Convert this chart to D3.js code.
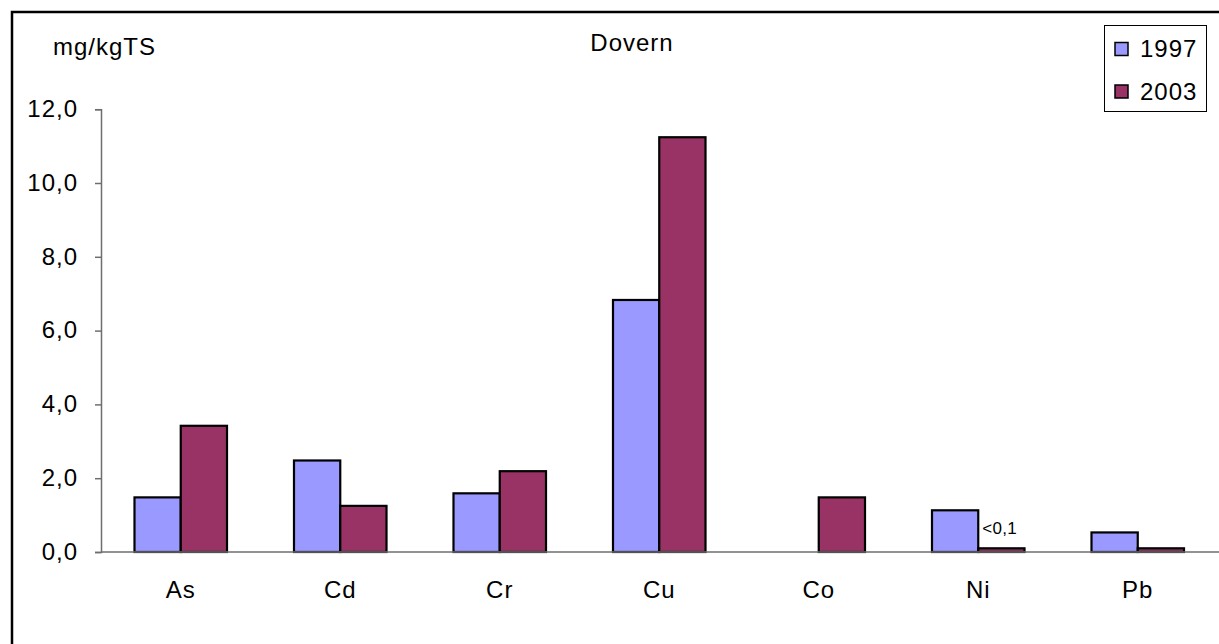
<!DOCTYPE html>
<html>
<head>
<meta charset="utf-8">
<script src="https://cdn.jsdelivr.net/npm/d3@7"></script>
<style>
  html, body { margin: 0; padding: 0; background: #fff; }
  svg { display: block; }
  text { font-family: "Liberation Sans", Arial, sans-serif; fill: #000; letter-spacing: 1px; }
</style>
</head>
<body>
<svg id="chart" width="1219" height="644"></svg>
<script>
const categories = ["As", "Cd", "Cr", "Cu", "Co", "Ni", "Pb"];
const seriesNames = ["1997", "2003"];
const values1997 = [1.48, 2.48, 1.59, 6.83, null, 1.13, 0.53];
const values2003 = [3.42, 1.25, 2.19, 11.24, 1.48, 0.1, 0.1];
const seriesColors = ["#9999FF", "#993366"];
const yTicks = [0, 2, 4, 6, 8, 10, 12];
const annotations = [{ category: "Ni", series: "2003", text: "<0,1" }];
const titleText = "Dovern";
const unitText = "mg/kgTS";

const svg = d3.select("#chart");
const plot = { left: 101, right: 1217.5, top: 109.2, bottom: 552 };
const FS = 24;

// outer chart border
svg.append("rect")
  .attr("x", 12).attr("y", 12)
  .attr("width", 1240).attr("height", 700)
  .attr("fill", "none").attr("stroke", "#000").attr("stroke-width", 2.5);

const x0 = d3.scaleBand().domain(categories)
  .range([plot.left, plot.right]).paddingInner(0.42).paddingOuter(0.21);
const x1 = d3.scaleBand().domain(seriesNames).range([0, x0.bandwidth()]);
const y = d3.scaleLinear().domain([0, 12]).range([plot.bottom, plot.top]);

const rows = categories.map((c, i) => ({ cat: c, vals: [values1997[i], values2003[i]] }));

// bars
const groups = svg.append("g").selectAll("g").data(rows).join("g")
  .attr("transform", d => `translate(${x0(d.cat)},0)`);
groups.selectAll("rect")
  .data(d => d.vals.map((v, j) => ({ s: seriesNames[j], v, j })).filter(e => e.v != null))
  .join("rect")
  .attr("x", e => x1(e.s))
  .attr("width", x1.bandwidth())
  .attr("y", e => y(e.v))
  .attr("height", e => y(0) - y(e.v))
  .attr("fill", e => seriesColors[e.j])
  .attr("stroke", "#000").attr("stroke-width", 2.2);

// y axis
const yAxis = svg.append("g").attr("transform", `translate(${plot.left},0)`)
  .call(d3.axisLeft(y).tickValues(yTicks).tickSize(6).tickPadding(17)
    .tickFormat(d => d.toFixed(1).replace(".", ",")));
yAxis.select(".domain").attr("stroke", "#6e6e6e").attr("stroke-width", 1.5);
yAxis.selectAll(".tick line").attr("stroke", "#6e6e6e").attr("stroke-width", 1.5);
yAxis.selectAll(".tick text").attr("font-size", FS).attr("dy", "0.3em")
  .attr("font-family", "Liberation Sans, Arial, sans-serif").attr("fill", "#000");

// x axis
const xAxis = svg.append("g").attr("transform", `translate(0,${plot.bottom})`)
  .call(d3.axisBottom(x0).tickSize(0).tickPadding(30));
xAxis.select(".domain").attr("stroke", "#6e6e6e").attr("stroke-width", 1.5)
  .attr("d", `M${plot.left},0H1219`);
xAxis.selectAll(".tick text").attr("font-size", FS).attr("dy", "0.68em")
  .attr("font-family", "Liberation Sans, Arial, sans-serif").attr("fill", "#000");

// annotations
annotations.forEach(a => {
  const i = categories.indexOf(a.category);
  const v = (a.series === "2003" ? values2003 : values1997)[i];
  svg.append("text")
    .attr("x", x0(a.category) + x1(a.series) + 4)
    .attr("y", y(v) - 14)
    .attr("font-size", 17)
    .style("letter-spacing", "0.3px")
    .text(a.text);
});

// title and unit
svg.append("text").attr("x", 632).attr("y", 51).attr("text-anchor", "middle")
  .attr("font-size", FS).text(titleText);
svg.append("text").attr("x", 53).attr("y", 55).attr("font-size", FS).text(unitText);

// legend
const lg = svg.append("g");
lg.append("rect").attr("x", 1104.5).attr("y", 25.5).attr("width", 102).attr("height", 86)
  .attr("fill", "#fff").attr("stroke", "#000").attr("stroke-width", 1);
seriesNames.forEach((s, j) => {
  const cy = 49 + j * 42.5;
  lg.append("rect").attr("x", 1115).attr("y", cy - 6.5).attr("width", 13).attr("height", 13)
    .attr("fill", seriesColors[j]).attr("stroke", "#000").attr("stroke-width", 1.5);
  lg.append("text").attr("x", 1140).attr("y", cy + 8).attr("font-size", FS).text(s);
});
</script>
</body>
</html>
